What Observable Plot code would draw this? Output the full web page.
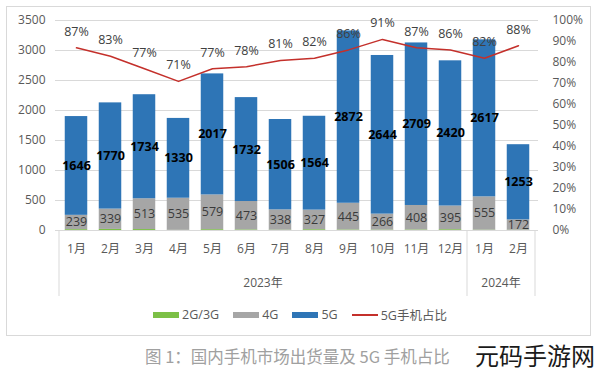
<!DOCTYPE html>
<html>
<head>
<meta charset="utf-8">
<script src="https://cdn.jsdelivr.net/npm/d3@7"></script>
<script src="https://cdn.jsdelivr.net/npm/@observablehq/plot@0.6"></script>
<style>
  html, body { margin: 0; padding: 0; background: #fff; }
  body { width: 600px; height: 371px; overflow: hidden; position: relative;
         font-family: 'Open Sans', 'Noto Sans CJK SC', sans-serif; }
  #frame { position: absolute; left: 6px; top: 6px; width: 585px; height: 330px;
           border: 1px solid #d9d9d9; box-sizing: border-box; }
  #chart { position: absolute; left: 0; top: 0; }
  #legend { position: absolute; left: 0; top: 305px; width: 600px; display: flex;
            justify-content: center; align-items: center; font-size: 12.5px; color: #595959; }
  #legend .item { display: flex; align-items: center; margin: 0 7px; }
  #legend .sw { display: inline-block; width: 26px; height: 6px; margin-right: 3px; }
  #legend .ln { display: inline-block; width: 26px; height: 2px; margin-right: 3px; }
  #caption { position: absolute; left: 145px; top: 344px; font-size: 16.5px; color: #a0a0a0;
             font-family: 'Noto Sans CJK SC', sans-serif; white-space: nowrap; }
  #brand { position: absolute; left: 475px; top: 337px; font-size: 24px; color: #1a1a1a;
           font-family: 'Noto Sans CJK SC', sans-serif; white-space: nowrap; }
</style>
</head>
<body>
<div id="frame"></div>
<div id="chart"></div>
<div id="legend"></div>
<div id="caption">图 1：国内手机市场出货量及 5G 手机占比</div>
<div id="brand">元码手游网</div>
<script>
// ---- data ----
const periods = ["2023-01","2023-02","2023-03","2023-04","2023-05","2023-06","2023-07",
                 "2023-08","2023-09","2023-10","2023-11","2023-12","2024-01","2024-02"];
const monthLabels = ["1月","2月","3月","4月","5月","6月","7月","8月","9月","10月","11月","12月","1月","2月"];
const yearOf = ["2023年","2023年","2023年","2023年","2023年","2023年","2023年",
                "2023年","2023年","2023年","2023年","2023年","2024年","2024年"];
const years = ["2023年","2024年"];
const ship2G3G = [14, 18, 16, 3, 14, 10, 6, 13, 9, 7, 9, 13, 6, 5];
const ship4G = [239, 339, 513, 535, 579, 473, 338, 327, 445, 266, 408, 395, 555, 172];
const ship5G = [1646, 1770, 1734, 1330, 2017, 1732, 1506, 1564, 2872, 2644, 2709, 2420, 2617, 1253];
const share5G = [87, 83, 77, 71, 77, 78, 81, 82, 86, 91, 87, 86, 82, 88];
const seriesNames = ["2G/3G", "4G", "5G"];
const seriesColors = ["#7cc046", "#a6a6a6", "#2e75b6"];
const lineName = "5G手机占比";
const lineColor = "#c4302b";
const leftTicks = [0, 500, 1000, 1500, 2000, 2500, 3000, 3500];
const rightTicks = [0, 10, 20, 30, 40, 50, 60, 70, 80, 90, 100];
const yMax = 3500;

// ---- tables ----
const seriesValues = [ship2G3G, ship4G, ship5G];
const rows = [];
periods.forEach((p, i) => seriesNames.forEach((s, j) => rows.push({period: p, series: s, value: seriesValues[j][i]})));
const shareRows = periods.map((p, i) => ({period: p, share: share5G[i]}));
const pctToY = d => d.share / 100 * yMax;

const font = "'Open Sans', 'Noto Sans CJK SC', sans-serif";

const chart = Plot.plot({
  width: 600,
  height: 300,
  marginLeft: 55,
  marginRight: 62,
  marginTop: 20,
  marginBottom: 70,
  style: {fontSize: "12px", fontFamily: font, color: "#595959", background: "transparent"},
  x: {domain: periods, padding: 0, label: null},
  y: {domain: [0, yMax], label: null},
  color: {domain: seriesNames, range: seriesColors},
  marks: [
    Plot.gridY(leftTicks, {stroke: "#d9d9d9", strokeOpacity: 1}),
    Plot.axisY(leftTicks, {tickSize: 0, tickPadding: 10, tickFormat: d => String(d), label: null}),
    Plot.axisY(rightTicks.map(t => t / 100 * yMax), {anchor: "right", tickSize: 0, tickPadding: 14,
      tickFormat: d => Math.round(d / yMax * 100) + "%", label: null}),
    Plot.axisX({tickSize: 0, tickPadding: 14, tickFormat: d => monthLabels[periods.indexOf(d)], label: null}),
    Plot.barY(rows, {x: "period", y: "value", z: "series", fill: "series", order: seriesNames,
      insetLeft: 5.75, insetRight: 5.75}),
    Plot.text(rows, Plot.stackY({x: "period", y: "value", z: "series", order: seriesNames,
      text: d => d.series === "4G" ? String(d.value) : null, fill: "#3a3a3a", fontSize: 12.5})),
    Plot.text(rows, Plot.stackY({x: "period", y: "value", z: "series", order: seriesNames,
      text: d => d.series === "5G" ? String(d.value) : null, fill: "#000", fontWeight: "bold", fontSize: 12.5})),
    Plot.line(shareRows, {x: "period", y: pctToY, stroke: lineColor, strokeWidth: 1.5}),
    Plot.text(shareRows, {x: "period", y: pctToY, text: d => d.share + "%", dy: -16, fill: "#404040", fontSize: 12.5})
  ]
});

// multi-level category axis: group separators and year labels, placed through Plot's x scale
const sx = chart.scale("x");
const sy = chart.scale("y");
const bw = sx.bandwidth;
const y0 = sy.apply(0);
const svg = d3.select(chart);
const g = svg.append("g");
const bounds = [];
years.forEach(yr => {
  const ps = periods.filter((p, i) => yearOf[i] === yr);
  const x1 = sx.apply(ps[0]);
  const x2 = sx.apply(ps[ps.length - 1]) + bw;
  bounds.push(x1, x2);
  g.append("text").attr("x", (x1 + x2) / 2).attr("y", y0 + 57)
    .attr("text-anchor", "middle").attr("fill", "#595959")
    .attr("font-size", 12).attr("font-family", font).text(yr);
});
[...new Set(bounds)].forEach(x => {
  g.append("line").attr("x1", x).attr("x2", x).attr("y1", y0).attr("y2", y0 + 66)
    .attr("stroke", "#d9d9d9").attr("stroke-width", 1);
});

document.getElementById("chart").appendChild(chart);

// legend
const legend = document.getElementById("legend");
seriesNames.forEach((s, i) => {
  const it = document.createElement("span");
  it.className = "item";
  it.innerHTML = `<span class="sw" style="background:${seriesColors[i]}"></span>${s}`;
  legend.appendChild(it);
});
const li = document.createElement("span");
li.className = "item";
li.innerHTML = `<span class="ln" style="background:${lineColor}"></span>${lineName}`;
legend.appendChild(li);
</script>
</body>
</html>
